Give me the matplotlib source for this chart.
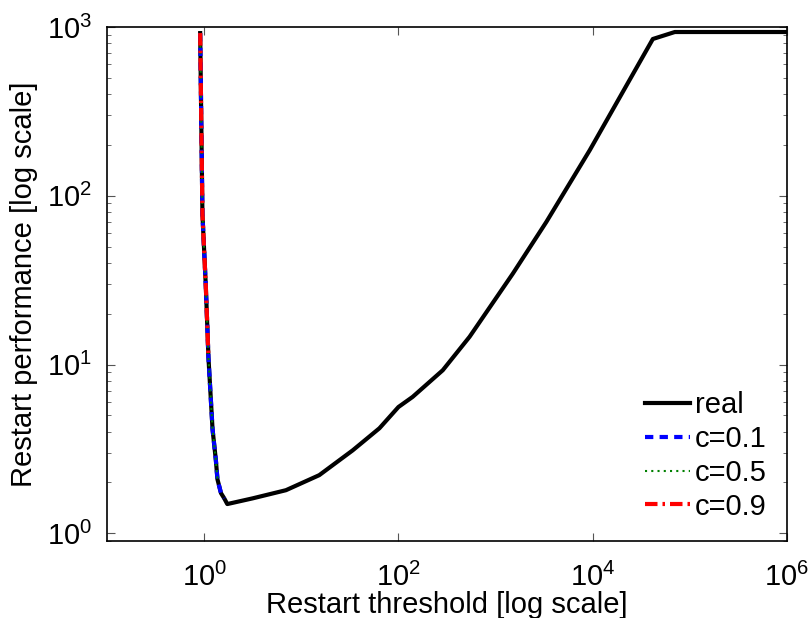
import matplotlib
matplotlib.use('Agg')
import matplotlib.pyplot as plt
from matplotlib.ticker import LogLocator, NullFormatter, FixedLocator

plt.rcParams['font.family'] = ['Liberation Sans', 'DejaVu Sans']
plt.rcParams['mathtext.fontset'] = 'custom'
plt.rcParams['mathtext.rm'] = 'Liberation Sans'
plt.rcParams['mathtext.it'] = 'Liberation Sans'
plt.rcParams['mathtext.bf'] = 'Liberation Sans'

# real restart performance
real_x = [0.91, 0.96, 1.04, 1.107, 1.22, 1.32, 1.37, 1.49, 1.61, 1.73, 3.15, 6.95,
          15.3, 33.8, 63.7, 100, 140, 286, 540, 1507, 3333, 9310, 41580, 70000, 1e6]
real_y = [920, 77.8, 29.1, 11.0, 4.13, 2.71, 2.09, 1.73, 1.61, 1.49, 1.61, 1.80,
          2.21, 3.10, 4.19, 5.6, 6.43, 9.25, 14.6, 34.6, 70, 186, 849, 934, 934]

# estimates
c1_x = [0.91, 0.96, 1.04, 1.107, 1.22, 1.32, 1.37, 1.49, 1.61]
c1_y = [920, 77.8, 29.1, 11.0, 4.13, 2.71, 2.09, 1.73, 1.61]
c5_x = [0.91, 0.96, 1.04, 1.107, 1.22, 1.32, 1.37]
c5_y = [920, 77.8, 29.1, 11.0, 4.13, 2.71, 2.09]
c9_x = [0.91, 0.96, 1.04, 1.107]
c9_y = [920, 77.8, 29.1, 11.0]

fig = plt.figure(figsize=(8.12, 6.18), dpi=100)
ax = fig.add_axes([0.1318, 0.1246, 0.8374, 0.8317])

ax.plot(real_x, real_y, color='black', linewidth=3, label='real')
ax.plot(c1_x, c1_y, color='blue', linewidth=3, linestyle=(0, (2, 1.5)), label='c=0.1')
ax.plot(c5_x, c5_y, color='green', linewidth=1.5, linestyle=(0, (1, 2)), label='c=0.5')
ax.plot(c9_x, c9_y, color='red', linewidth=3, linestyle=(0, (3, 1.2, 0.6, 1.2)), label='c=0.9')

ax.set_xscale('log')
ax.set_yscale('log')
ax.set_xlim(0.1, 1e6)
ax.set_ylim(0.9, 1000)

ax.xaxis.set_major_locator(FixedLocator([1, 1e2, 1e4, 1e6]))
ax.xaxis.set_minor_locator(FixedLocator([]))
ax.yaxis.set_major_locator(LogLocator(base=10))
ax.yaxis.set_minor_locator(LogLocator(base=10, subs=range(2, 10)))
ax.yaxis.set_minor_formatter(NullFormatter())

ax.tick_params(which='both', direction='in', top=True, right=True, labelsize=21, color='#555555')
ax.tick_params(which='major', length=6)
ax.tick_params(which='minor', length=3)
ax.tick_params(axis='x', pad=16)
ax.tick_params(axis='y', pad=11)
for s in ax.spines.values():
    s.set_linewidth(1.2)

ax.set_xlabel('Restart threshold [log scale]', fontsize=21, labelpad=-1)
ax.set_ylabel('Restart performance [log scale]', fontsize=21, labelpad=6)

ax.legend(loc='lower right', frameon=False, fontsize=21, handlelength=1.55,
          handletextpad=0.15, labelspacing=0.2, borderaxespad=0.3)

fig.savefig('out.png', dpi=100)
